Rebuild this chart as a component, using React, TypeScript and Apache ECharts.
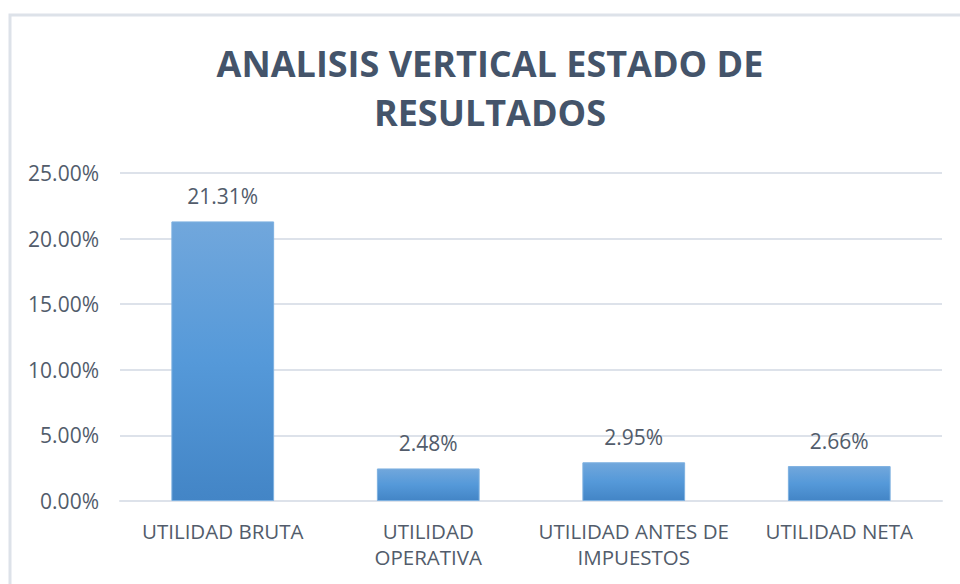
import React, { useEffect, useRef } from "react";
import * as echarts from "echarts";

const titleText = "ANALISIS VERTICAL ESTADO DE\nRESULTADOS";
const categories = [
  "UTILIDAD BRUTA",
  "UTILIDAD\nOPERATIVA",
  "UTILIDAD ANTES DE\nIMPUESTOS",
  "UTILIDAD NETA",
];
const values = [21.31, 2.48, 2.95, 2.66];
const yMin = 0;
const yMax = 25;
const yStep = 5;

export default function App() {
  const ref = useRef<HTMLDivElement>(null);
  useEffect(() => {
    if (!ref.current) return;
    const chart = echarts.init(ref.current, undefined, { renderer: "svg" });
    const font = "'Open Sans', 'Noto Sans', sans-serif";
    const textColor = "#525c6b";
    chart.setOption({
      animation: false,
      backgroundColor: "#ffffff",
      title: {
        text: titleText,
        left: 485,
        textAlign: "center",
        top: 34,
        textStyle: {
          fontFamily: font,
          fontSize: 36,
          fontWeight: "bold",
          lineHeight: 49,
          color: "#44546A",
        },
      },
      graphic: [
        {
          type: "rect",
          shape: { x: 10, y: 15, width: 1000, height: 620 },
          style: { fill: "none", stroke: "#dde2e9", lineWidth: 3 },
          silent: true,
          z: -1,
        },
      ],
      grid: { left: 120, right: 18, top: 173, bottom: 83, containLabel: false },
      xAxis: {
        type: "category",
        data: categories,
        axisLine: { show: true, lineStyle: { color: "#dde2ea", width: 2 } },
        axisTick: { show: false },
        axisLabel: {
          fontFamily: font,
          fontSize: 20.5,
          lineHeight: 26,
          color: textColor,
          margin: 17,
          interval: 0,
        },
      },
      yAxis: {
        type: "value",
        min: yMin,
        max: yMax,
        interval: yStep,
        axisLine: { show: false },
        axisTick: { show: false },
        splitLine: { show: true, lineStyle: { color: "#dde2ea", width: 2 } },
        axisLabel: {
          fontFamily: font,
          fontSize: 21,
          color: textColor,
          margin: 21,
          formatter: (v: number) => v.toFixed(2) + "%",
        },
      },
      series: [
        {
          type: "bar",
          data: values,
          barWidth: "50%",
          itemStyle: {
            color: new echarts.graphic.LinearGradient(0, 0, 0, 1, [
              { offset: 0, color: "#71a7dc" },
              { offset: 0.5, color: "#5599d9" },
              { offset: 1, color: "#4385c6" },
            ]),
            borderColor: "#7db0e0",
            borderWidth: 1,
          },
          label: {
            show: true,
            position: "top",
            distance: 13,
            fontFamily: font,
            fontSize: 21,
            lineHeight: 24,
            color: textColor,
            formatter: (p: any) => Number(p.value).toFixed(2) + "%",
          },
        },
      ],
    });
    return () => chart.dispose();
  }, []);
  return (
    <div
      ref={ref}
      style={{ position: "fixed", left: 0, top: 0, width: 960, height: 584 }}
    />
  );
}
